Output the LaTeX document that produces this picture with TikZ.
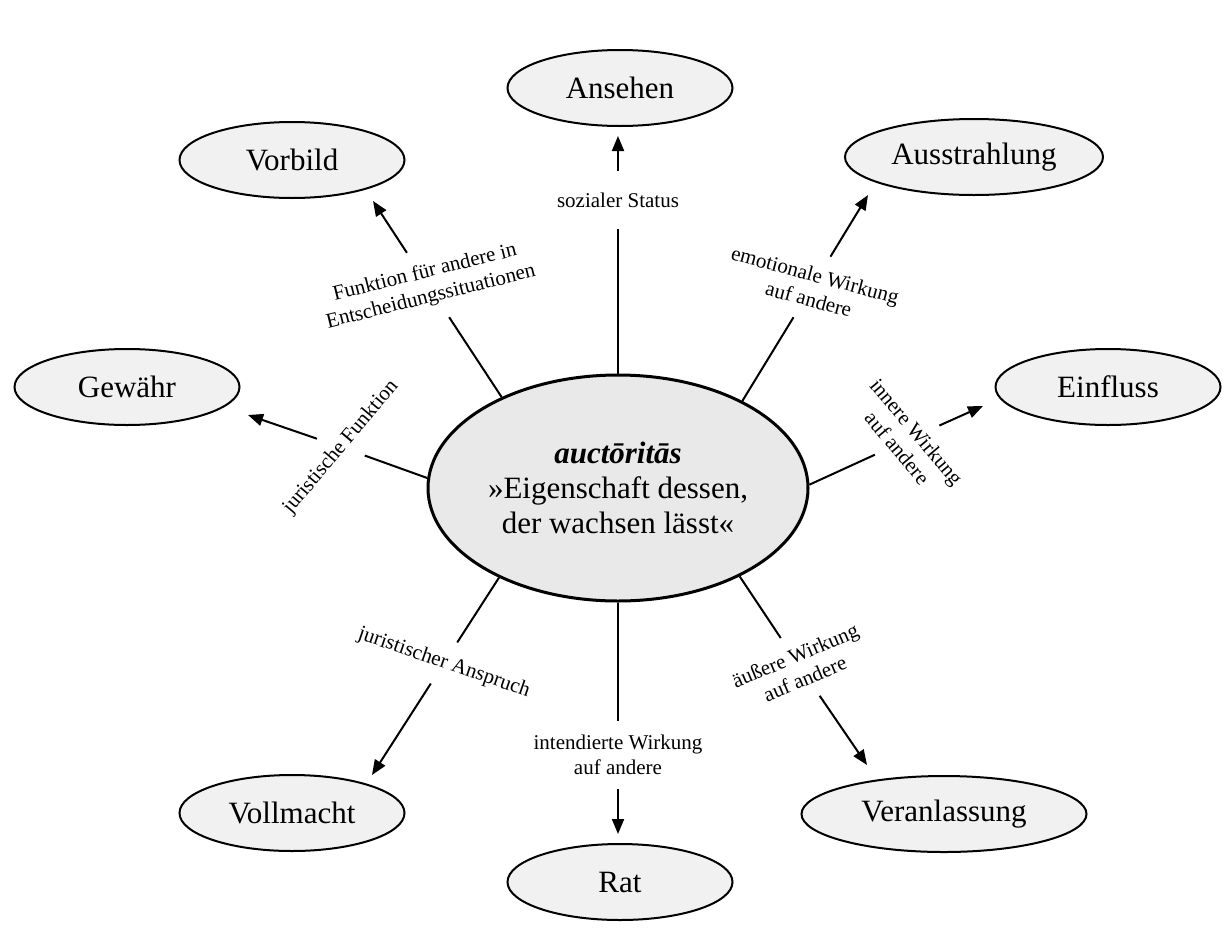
\documentclass[tikz,border=0pt]{standalone}
\usepackage{fontspec}
\setmainfont{Liberation Serif}
\usetikzlibrary{shapes.geometric,arrows.meta}
\begin{document}
\begin{tikzpicture}[x=1pt,y=1pt]
\tikzstyle{every node}+=[inner sep=0pt]
\tikzstyle{begriff}=[ellipse,draw=black,line width=2pt,fill=gray!11,minimum width=225pt,minimum height=76pt,font=\fontsize{31}{35}\selectfont]
\tikzstyle{kern}=[ellipse,draw=black,line width=3pt,fill=gray!17,minimum width=380pt,minimum height=226pt,align=center,font=\fontsize{31}{35}\selectfont]
\tikzstyle{bezug}=[inner sep=14pt,align=center,font=\fontsize{21}{25}\selectfont]
\tikzstyle{strich}=[black,line width=2pt]
\tikzstyle{pfeil}=[strich,-{Triangle[length=15pt,width=12pt]}]
\useasboundingbox (0,0) rectangle (1223,-945);
\draw (618,-488) node[kern] (auc) {\textbf{\textit{auctōritās}}\\»Eigenschaft dessen,\\der wachsen lässt«};
\draw (620,-88) node[begriff] (ansehen) {Ansehen};
\draw (292,-160) node[begriff] (vorbild) {Vorbild};
\draw (974,-157) node[begriff,minimum width=258pt] (ausstr) {Ausstrahlung};
\draw (127,-387) node[begriff] (gewaehr) {Gewähr};
\draw (1108,-387) node[begriff] (einfluss) {Einfluss};
\draw (292,-813) node[begriff] (vollm) {Vollmacht};
\draw (620,-882) node[begriff] (rat) {Rat};
\draw (944,-814) node[begriff,minimum width=285pt] (veranl) {Veranlassung};
% labels on the connectors
\draw (618,-200) node[bezug,inner ysep=21pt] (lAnsehen) {sozialer Status};
\draw (428,-285) node[bezug,rotate=14] (lVorbild) {Funktion für andere in\\Entscheidungssituationen};
\draw (812,-287) node[bezug,rotate=-15] (lAusstr) {emotionale Wirkung\\auf andere};
\draw (341,-447) node[bezug,rotate=50] (lGewaehr) {juristische Funktion};
\draw (907,-440) node[bezug,rotate=-50] (lEinfluss) {innere Wirkung\\auf andere};
\draw (444,-663) node[bezug,rotate=-19] (lVollm) {juristischer Anspruch};
\draw (618,-755) node[bezug] (lRat) {intendierte Wirkung\\auf andere};
\draw (800,-667) node[bezug,rotate=23] (lVeranl) {äußere Wirkung\\auf andere};
% arrow tips
\coordinate (tAnsehen) at (618,-136);
\coordinate (tVorbild) at (373,-201);
\coordinate (tAusstr) at (868,-195);
\coordinate (tGewaehr) at (248,-415);
\coordinate (tEinfluss) at (983,-406);
\coordinate (tVollm) at (372,-775);
\coordinate (tRat) at (618,-834);
\coordinate (tVeranl) at (867,-765);
\draw[strich] (auc.90) -- (lAnsehen);
\draw[pfeil] (lAnsehen) -- (tAnsehen);
\draw[strich] (auc.142) -- (lVorbild);
\draw[pfeil] (lVorbild) -- (tVorbild);
\draw[strich] (auc.35) -- (lAusstr);
\draw[pfeil] (lAusstr) -- (tAusstr);
\draw[strich] (auc.177) -- (lGewaehr);
\draw[pfeil] (lGewaehr) -- (tGewaehr);
\draw[strich] (auc.1) -- (lEinfluss);
\draw[pfeil] (lEinfluss) -- (tEinfluss);
\draw[strich] (auc.217) -- (lVollm);
\draw[pfeil] (lVollm) -- (tVollm);
\draw[strich] (auc.270) -- (lRat);
\draw[pfeil] (lRat) -- (tRat);
\draw[strich] (auc.324) -- (lVeranl);
\draw[pfeil] (lVeranl) -- (tVeranl);
\end{tikzpicture}
\end{document}
